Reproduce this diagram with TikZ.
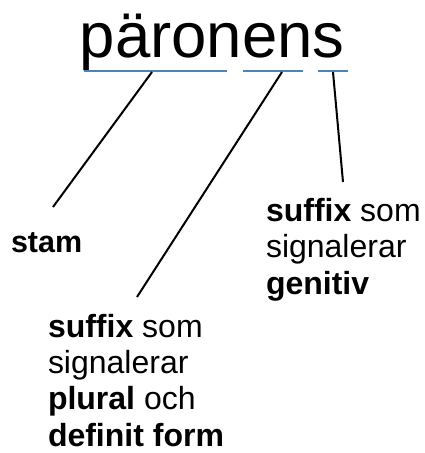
\documentclass[tikz,border=0pt]{standalone}
\usepackage{fontspec}
\setmainfont{Liberation Sans}
\definecolor{ulblue}{RGB}{79,129,189}
\begin{document}
\begin{tikzpicture}[x=1pt,y=1pt,
  lbl/.style={inner sep=0pt,outer sep=0pt,align=left,font=\fontsize{32}{36.3}\selectfont},
  uline/.style={draw=ulblue,line width=1.2pt},
  conn/.style={draw=black,line width=2pt}]
\useasboundingbox (0,0) rectangle (425,-453);
\node[inner sep=0pt,anchor=base west,font=\fontsize{63.5}{70}\selectfont] (word) at (79.5,-57) {päronens};
\coordinate (u1a) at (84,-71); \coordinate (u1b) at (227,-71);
\coordinate (u2a) at (243,-71); \coordinate (u2b) at (303,-71);
\coordinate (u3a) at (318,-71); \coordinate (u3b) at (348,-71);
\draw[uline] (u1a) -- (u1b);
\draw[uline] (u2a) -- (u2b);
\draw[uline] (u3a) -- (u3b);
\node[lbl,anchor=base west,font=\fontsize{30.5}{36}\selectfont] (stam) at (11,-252) {\textbf{stam}};
\node[lbl,anchor=north west] (gen) at (266,-198.5) {\textbf{suffix} som\\signalerar\\\textbf{genitiv}};
\node[lbl,anchor=north west] (plu) at (48,-314) {\textbf{suffix} som\\signalerar\\\textbf{plural} och\\\textbf{definit form}};
\coordinate (s1) at (152,-72); \coordinate (e1) at (53,-207);
\coordinate (s2) at (282,-72); \coordinate (e2) at (137,-297);
\coordinate (s3) at (333,-72); \coordinate (e3) at (343,-182);
\draw[conn] (s1) -- (e1);
\draw[conn] (s2) -- (e2);
\draw[conn] (s3) -- (e3);
\end{tikzpicture}
\end{document}
